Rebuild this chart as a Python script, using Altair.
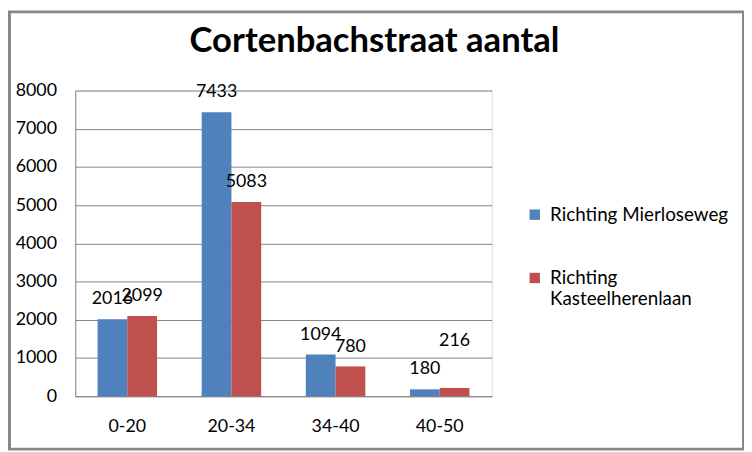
import altair as alt
import pandas as pd

categories = ["0-20", "20-34", "34-40", "40-50"]
series = ["Richting Mierloseweg", "Richting Kasteelherenlaan"]
mierloseweg = [2016, 7433, 1094, 180]
kasteelherenlaan = [2099, 5083, 780, 216]
y_ticks = [0, 1000, 2000, 3000, 4000, 5000, 6000, 7000, 8000]

rows = []
for c, a, b in zip(categories, mierloseweg, kasteelherenlaan):
    rows.append({"cat": c, "series": series[0], "value": a})
    rows.append({"cat": c, "series": series[1], "value": b})
df = pd.DataFrame(rows)

FONT = "Lato"
GRAY = "#868686"
FS = 18

x = alt.X(
    "cat:N", sort=categories,
    scale=alt.Scale(paddingInner=0.4286, paddingOuter=0.214),
    axis=alt.Axis(title=None, labelAngle=0, ticks=False, labelPadding=22,
                  labelFontSize=FS, labelFont=FONT, labelColor="black",
                  domainColor=GRAY, grid=False),
)
xo = alt.XOffset("series:N", sort=series,
                 scale=alt.Scale(paddingInner=0, paddingOuter=0))
y = alt.Y(
    "value:Q", scale=alt.Scale(domain=[0, 8000], nice=False),
    axis=alt.Axis(values=y_ticks, title=None, ticks=False, labelPadding=19,
                  labelFontSize=FS, labelFont=FONT, labelColor="black",
                  gridColor=GRAY, domainColor=GRAY, format="d"),
)
color = alt.Color(
    "series:N", sort=series,
    scale=alt.Scale(domain=series, range=["#4F81BD", "#C0504D"]),
    legend=alt.Legend(
        title=None, orient="none", legendX=455, legendY=116,
        symbolType="square", symbolSize=110, symbolStrokeWidth=0,
        symbolOpacity=1, labelFontSize=19, labelFont=FONT, labelColor="black",
        labelOffset=6, rowPadding=44, padding=0, labelLimit=300,
        labelExpr="datum.label == 'Richting Kasteelherenlaan' ? ['Richting', 'Kasteelherenlaan'] : datum.label",
    ),
)

base = alt.Chart(df)
bars = base.mark_bar().encode(x=x, xOffset=xo, y=y, color=color)

is_moved = "(datum.cat == '40-50') && (datum.series == 'Richting Kasteelherenlaan')"
labels = base.transform_filter("!(" + is_moved + ")").mark_text(
    baseline="alphabetic", dy=-15, fontSize=FS, font=FONT, color="black"
).encode(x=x, xOffset=xo, y=y, text="value:Q")
labels_moved = base.transform_filter(is_moved).mark_text(
    baseline="alphabetic", dy=-42, fontSize=FS, font=FONT, color="black"
).encode(x=x, xOffset=xo, y=y, text="value:Q")

border = alt.Chart(pd.DataFrame({"a": [0]})).mark_rect(
    filled=False, stroke="#878787", strokeWidth=3
).encode(x=alt.value(-66.5), x2=alt.value(675.5),
         y=alt.value(-79.5), y2=alt.value(362.5))

chart = alt.layer(bars, labels, labels_moved, border).properties(
    width=421, height=309,
    title=alt.TitleParams("Cortenbachstraat aantal", fontSize=35, font=FONT,
                          fontWeight="bold", color="black", anchor="middle",
                          baseline="alphabetic", dx=92, offset=-77),
    autosize=alt.AutoSizeParams(type="none"),
    padding={"left": 68, "top": 81, "right": 255, "bottom": 54},
).configure_view(stroke=None).configure(background="white")

chart.save("out.html", embed_options={"renderer": "svg", "actions": False})
